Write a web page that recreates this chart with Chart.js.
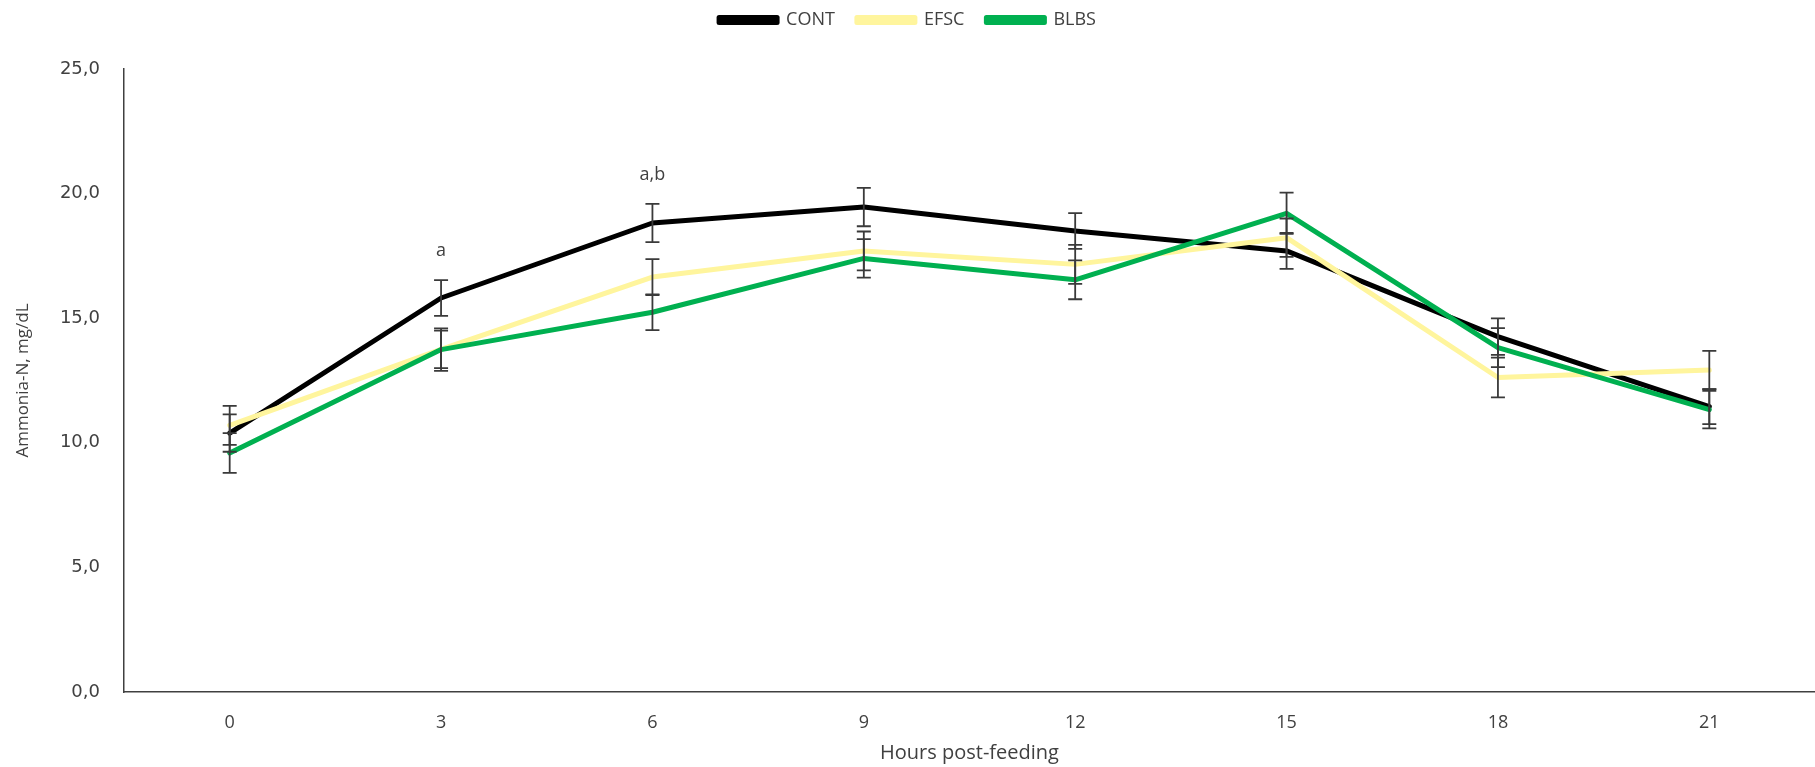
<!DOCTYPE html>
<html>
<head>
<meta charset="utf-8">
<script src="https://cdn.jsdelivr.net/npm/chart.js@4.4.1/dist/chart.umd.min.js"></script>
<style>
  html, body { margin: 0; padding: 0; background: #fff; }
  .chart-container { position: relative; width: 1815px; height: 767px; }
</style>
</head>
<body>
<div class="chart-container">
  <canvas id="myChart"></canvas>
</div>
<script>
// --- dados ---
var hours = ['0', '3', '6', '9', '12', '15', '18', '21'];

var contValues = [10.39, 15.81, 18.82, 19.46, 18.50, 17.70, 14.26, 11.45];
var efscValues = [10.70, 13.75, 16.65, 17.70, 17.16, 18.23, 12.62, 12.92];
var blbsValues = [9.59, 13.74, 15.24, 17.40, 16.54, 19.21, 13.82, 11.33];

// erro padrão (barras de erro)
var contErr = [0.75, 0.72, 0.77, 0.77, 0.72, 0.72, 0.73, 0.70];
var efscErr = [0.78, 0.75, 0.72, 0.78, 0.78, 0.77, 0.80, 0.77];
var blbsErr = [0.80, 0.85, 0.72, 0.77, 0.78, 0.83, 0.78, 0.75];

// letras de significância por horário
var sigLabels = ['', 'a', 'a,b', '', '', '', '', ''];

var yTicks = [0, 5, 10, 15, 20, 25];

var textColor = '#404040';

// espaço extra abaixo da legenda
var legendGapPlugin = {
  id: 'legendGap',
  beforeInit: function(chart) {
    var origFit = chart.legend.fit;
    chart.legend.fit = function() {
      origFit.bind(chart.legend)();
      this.height += 30;
    };
  }
};

// plugin simples para barras de erro + letras
var errorBarsPlugin = {
  id: 'errorBars',
  afterDatasetsDraw: function(chart) {
    var ctx = chart.ctx;
    var yScale = chart.scales.y;
    var xScale = chart.scales.x;
    ctx.save();
    ctx.strokeStyle = '#3a3a3a';
    ctx.lineWidth = 1.8;
    chart.data.datasets.forEach(function(ds) {
      ds.data.forEach(function(v, i) {
        var e = ds.errors[i];
        var x = xScale.getPixelForValue(i);
        var yTop = yScale.getPixelForValue(v + e);
        var yBot = yScale.getPixelForValue(v - e);
        ctx.beginPath();
        ctx.moveTo(x, yTop); ctx.lineTo(x, yBot);
        ctx.moveTo(x - 7, yTop); ctx.lineTo(x + 7, yTop);
        ctx.moveTo(x - 7, yBot); ctx.lineTo(x + 7, yBot);
        ctx.stroke();
      });
    });

    // letras acima da maior barra de erro
    ctx.fillStyle = textColor;
    ctx.font = '18px "Open Sans"';
    ctx.textAlign = 'center';
    ctx.textBaseline = 'middle';
    sigLabels.forEach(function(lbl, i) {
      if (!lbl) return;
      var top = -Infinity;
      chart.data.datasets.forEach(function(ds) {
        top = Math.max(top, ds.data[i] + ds.errors[i]);
      });
      ctx.fillText(lbl, xScale.getPixelForValue(i), yScale.getPixelForValue(top) - 29);
    });
    ctx.restore();
  }
};

var ctx = document.getElementById('myChart').getContext('2d');

var chartConfig = {
  type: 'line',
  data: {
    labels: hours,
    datasets: [
      {
        label: 'CONT',
        data: contValues,
        errors: contErr,
        borderColor: '#000000',
        backgroundColor: '#000000',
        borderWidth: 5,
        order: 3
      },
      {
        label: 'EFSC',
        data: efscValues,
        errors: efscErr,
        borderColor: '#FFF59D',
        backgroundColor: '#FFF59D',
        borderWidth: 5,
        order: 2
      },
      {
        label: 'BLBS',
        data: blbsValues,
        errors: blbsErr,
        borderColor: '#00B050',
        backgroundColor: '#00B050',
        borderWidth: 5,
        order: 1
      }
    ]
  },
  options: {
    responsive: true,
    maintainAspectRatio: false,
    animation: false,
    layout: { padding: { top: -11, left: 0, right: 0, bottom: 0 } },
    elements: {
      point: { radius: 0, hoverRadius: 0 },
      line: { tension: 0, borderCapStyle: 'round', borderJoinStyle: 'round' }
    },
    plugins: {
      legend: {
        display: true,
        position: 'top',
        labels: {
          boxWidth: 58,
          boxHeight: 5,
          padding: 22,
          color: textColor,
          font: { family: '"Open Sans"', size: 18 },
          sort: function(a, b) { return a.datasetIndex - b.datasetIndex; }
        }
      },
      tooltip: { enabled: false }
    },
    scales: {
      x: {
        type: 'category',
        offset: true,
        grid: { display: false, drawTicks: false },
        border: { display: true, color: '#404040', width: 1.5 },
        ticks: {
          color: textColor,
          padding: 20,
          font: { family: '"Open Sans"', size: 18 }
        },
        title: {
          display: true,
          text: 'Hours post-feeding',
          color: textColor,
          font: { family: '"Open Sans"', size: 20 },
          padding: { top: 0, bottom: 2 }
        },
        afterFit: function(s) { s.height = 75; }
      },
      y: {
        min: 0,
        max: 25,
        afterBuildTicks: function(s) {
          s.ticks = yTicks.map(function(v) { return { value: v }; });
        },
        grid: { display: false, drawTicks: false },
        border: { display: true, color: '#404040', width: 1.5 },
        ticks: {
          color: textColor,
          padding: 24,
          font: { family: '"DejaVu Sans"', size: 18 },
          callback: function(v) { return v.toFixed(1).replace('.', ','); }
        },
        title: {
          display: true,
          text: 'Ammonia-N, mg/dL',
          color: textColor,
          font: { family: '"Open Sans"', size: 17 },
          padding: { top: 13, bottom: 0 }
        },
        afterFit: function(s) { s.width = 124; }
      }
    }
  },
  plugins: [legendGapPlugin, errorBarsPlugin]
};

var myChart = new Chart(ctx, chartConfig);
</script>
</body>
</html>
